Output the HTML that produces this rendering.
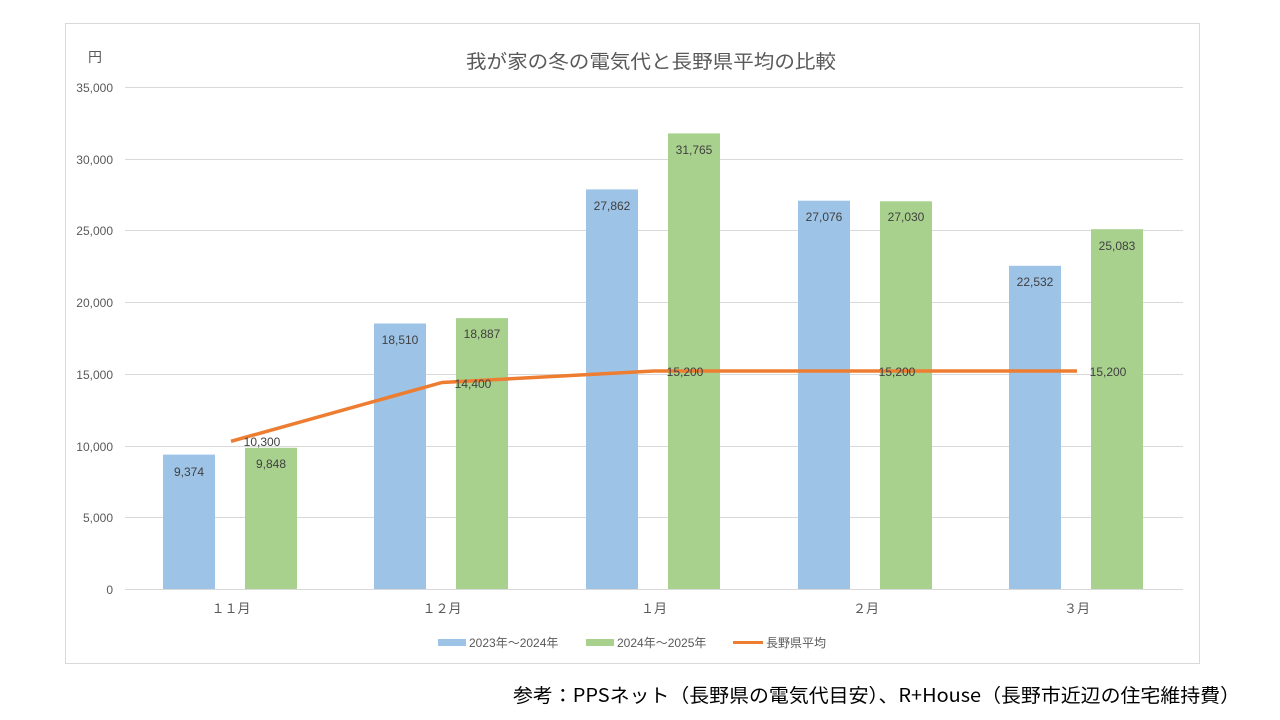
<!DOCTYPE html>
<html><head><meta charset="utf-8"><style>
body{margin:0;background:#fff;}
svg{display:block;font-family:"Liberation Sans","Noto Sans CJK JP",sans-serif;}
.cjk{font-family:"Noto Sans CJK JP","Liberation Sans",sans-serif;}
</style></head><body>
<svg width="1280" height="720" viewBox="0 0 1280 720" xmlns="http://www.w3.org/2000/svg">
<rect x="65.5" y="23.5" width="1134" height="640" fill="#fff" stroke="#d9d9d9"/>
<text class="cjk" x="466" y="68" font-size="19" fill="#595959" textLength="370" lengthAdjust="spacingAndGlyphs">我が家の冬の電気代と長野県平均の比較</text>
<text x="95" y="62" font-size="14" fill="#595959" text-anchor="middle">円</text>
<g stroke="#d9d9d9" stroke-width="1">
<line x1="125" x2="1183" y1="87.5" y2="87.5"/>
<line x1="125" x2="1183" y1="159.5" y2="159.5"/>
<line x1="125" x2="1183" y1="230.5" y2="230.5"/>
<line x1="125" x2="1183" y1="302.5" y2="302.5"/>
<line x1="125" x2="1183" y1="374.5" y2="374.5"/>
<line x1="125" x2="1183" y1="446.5" y2="446.5"/>
<line x1="125" x2="1183" y1="517.5" y2="517.5"/>
<line x1="125" x2="1183" y1="589.5" y2="589.5"/>
</g>
<g font-size="12" fill="#595959" text-anchor="end">
<text x="113" y="92">35,000</text>
<text x="113" y="164">30,000</text>
<text x="113" y="235">25,000</text>
<text x="113" y="307">20,000</text>
<text x="113" y="379">15,000</text>
<text x="113" y="451">10,000</text>
<text x="113" y="522">5,000</text>
<text x="113" y="594">0</text>
</g>
<g fill="#9dc3e6">
<rect x="163" y="454.6" width="52" height="134.4"/>
<rect x="374" y="323.5" width="52" height="265.5"/>
<rect x="586" y="189.4" width="52" height="399.6"/>
<rect x="798" y="200.7" width="52" height="388.3"/>
<rect x="1009" y="265.8" width="52" height="323.2"/>
</g>
<g fill="#a9d18e">
<rect x="245" y="447.8" width="52" height="141.2"/>
<rect x="456" y="318.1" width="52" height="270.9"/>
<rect x="668" y="133.4" width="52" height="455.6"/>
<rect x="880" y="201.3" width="52" height="387.7"/>
<rect x="1091" y="229.2" width="52" height="359.8"/>
</g>
<g font-size="12" fill="#404040" text-anchor="middle">
<text x="189" y="476">9,374</text>
<text x="400" y="344">18,510</text>
<text x="612" y="210">27,862</text>
<text x="824" y="221">27,076</text>
<text x="1035" y="286">22,532</text>
<text x="271" y="468">9,848</text>
<text x="482" y="338">18,887</text>
<text x="694" y="154">31,765</text>
<text x="906" y="221">27,030</text>
<text x="1117" y="250">25,083</text>
</g>
<polyline points="231,441.3 442,382.5 654,371 866,371 1077,371" fill="none" stroke="#ed7d31" stroke-width="3.5" stroke-linejoin="round"/>
<g font-size="12" fill="#404040" text-anchor="middle">
<text x="262" y="446">10,300</text>
<text x="473" y="388">14,400</text>
<text x="685" y="376">15,200</text>
<text x="897" y="376">15,200</text>
<text x="1108" y="376">15,200</text>
</g>
<g font-size="13" fill="#595959" text-anchor="middle">
<text x="231" y="613">１１月</text>
<text x="442" y="613">１２月</text>
<text x="654" y="613">１月</text>
<text x="866" y="613">２月</text>
<text x="1077" y="613">３月</text>
</g>
<rect x="438" y="639" width="28" height="7" fill="#9dc3e6"/>
<text x="469" y="647" font-size="12" fill="#595959">2023年～2024年</text>
<rect x="586" y="639" width="28" height="7" fill="#a9d18e"/>
<text x="617" y="647" font-size="12" fill="#595959">2024年～2025年</text>
<line x1="733" x2="763" y1="642.5" y2="642.5" stroke="#ed7d31" stroke-width="3"/>
<text x="766" y="647" font-size="12" fill="#595959">長野県平均</text>
<text class="cjk" x="513" y="702" font-size="19" fill="#000" textLength="727" lengthAdjust="spacingAndGlyphs">参考：PPSネット（長野県の電気代目安）、R+House（長野市近辺の住宅維持費）</text>
</svg>
</body></html>
